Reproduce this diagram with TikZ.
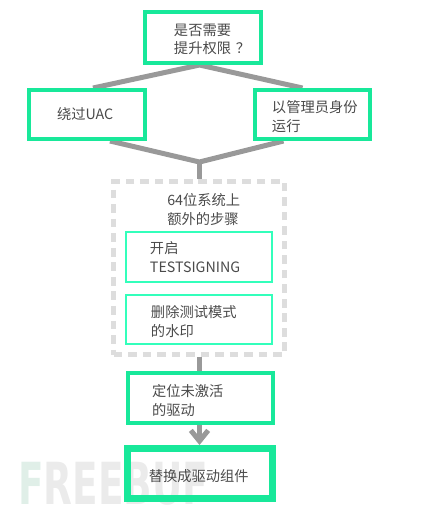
\documentclass[tikz,border=0pt]{standalone}
\usepackage{fontspec}
\setmainfont{Noto Sans CJK SC}
\newfontfamily\markfont{DejaVu Sans}
\usetikzlibrary{arrows.meta,positioning,calc,backgrounds}

\definecolor{boxgreen}{HTML}{18E89A}
\definecolor{stepgreen}{HTML}{33FFBB}
\definecolor{linegray}{HTML}{999999}
\definecolor{dashgray}{HTML}{DDDDDD}
\definecolor{textgray}{HTML}{4A4A4A}
\definecolor{markgray}{HTML}{EBEBEB}
\definecolor{markgreen}{HTML}{E0EFE8}

\begin{document}
\begin{tikzpicture}[
  x=.75pt, y=-.75pt,
  font=\fontsize{10.7}{14}\selectfont,
  text=textgray,
  pad/.style={execute at begin node={\leftskip=#1\relax}},
  dropped/.style={execute at begin node={\rule{0pt}{#1}}},
  box/.style={draw=boxgreen, line width=3pt, inner sep=0pt, align=left,
              text width=87pt, minimum height=37.5pt},
  stepbox/.style={box, draw=stepgreen, line width=1.5pt, text width=109.5pt},
  group/.style={draw=dashgray, line width=3.4pt, dash pattern=on 6.5pt off 4.4pt,
                minimum width=128.25pt, minimum height=129.75pt, inner sep=0pt},
  ar/.style={draw=linegray, line width=3.75pt}
]
\useasboundingbox (0,0) rectangle (424,512);

\node[box, pad=21.75pt, dropped=11.5pt, minimum height=38.25pt] (need) at (203,37.5)
     {是否需要\\提升权限 ？};
\node[box, pad=21pt, minimum height=36.75pt] (bypass) at (87,114.5) {绕过UAC};
\node[box, pad=12.75pt, dropped=12.5pt, text width=86.25pt, minimum height=36.75pt] (admin) at (312.5,114.5)
     {以管理员身份\\运行};

\node[group] (extra) at (199,268) {};
\node[anchor=west, inner sep=0pt, align=left] (title) at (167,209.5)
     {64位系统上\\额外的步骤};
\node[stepbox, pad=18pt] (testsign) at (199,257) {开启\\TESTSIGNING};
\node[stepbox, pad=18.75pt, dropped=12pt, minimum height=36.75pt] (wmark) at (199,319.5)
     {删除测试模式\\的水印};

\node[box, pad=18pt, dropped=12.5pt, text width=108.75pt] (locate) at (200.5,398)
     {定位未激活\\的驱动};
\node[box, pad=16pt, dropped=12.5pt, text width=108.75pt, line width=5.25pt] (replace) at (200,473.5)
     {替换成驱动组件};

\coordinate (join) at (199.5,162);

\begin{scope}[on background layer]
% watermark
\node[anchor=west, inner sep=0pt, xscale=.645, transform shape, text=markgray,
      font=\markfont\bfseries\fontsize{43.5}{44}\selectfont] (mark) at (18,484)
     {\textcolor{markgreen}{F}REEBUF};

\draw[ar] ($(bypass.north)+(6,0)$) -- (need.south -| join) -- ($(admin.north)+(-10,0)$);
\draw[ar] ($(bypass.south)+(23,0)$) -- (join) -- ($(admin.south)+(-29,0)$);
\draw[ar] (join) -- (extra.north -| join);
\draw[ar] (extra.south -| join) -- (locate.north -| join);
\draw[ar, -{Straight Barb[length=8pt,width=13pt]}] (locate.south -| join) -- (replace.north -| join);
\end{scope}
\end{tikzpicture}
\end{document}
